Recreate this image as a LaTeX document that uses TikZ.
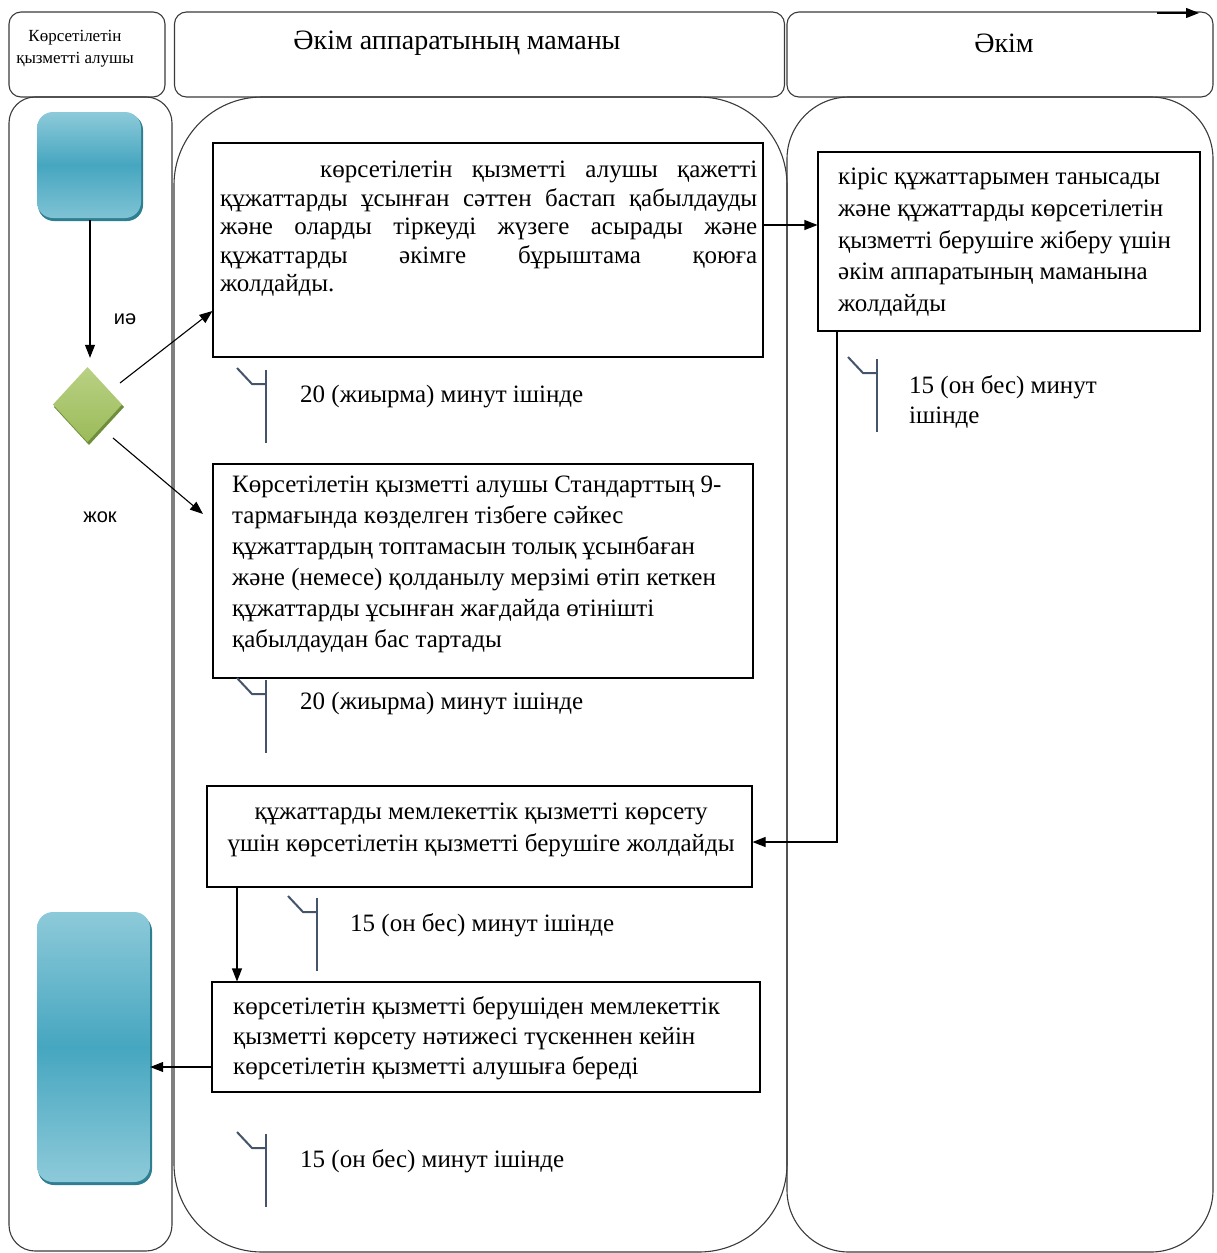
\documentclass[tikz,border=0pt]{standalone}
\usepackage{fontspec}
\setmainfont{Liberation Serif}
\newfontfamily\lsans{Liberation Sans}
\usetikzlibrary{arrows.meta,shapes.geometric,calc}
\definecolor{lanegray}{HTML}{3A3A3A}
\definecolor{brk}{HTML}{44546A}
\definecolor{bluelite}{HTML}{8DCAD9}
\definecolor{bluemid}{HTML}{46A6C0}
\definecolor{blueedge}{HTML}{2F7F93}
\definecolor{greenlite}{HTML}{B9D184}
\definecolor{greenmid}{HTML}{9BBB59}
\definecolor{greenedge}{HTML}{6F8E3B}
\tikzset{
  x=1pt, y=-1pt,
  lane/.style={draw=lanegray, line width=1.1pt},
  hdrbox/.style={draw=lanegray, line width=1.1pt, rounded corners=12pt, rectangle, inner sep=0pt},
  procbox/.style={draw=black, line width=1.1pt, rectangle, inner sep=0pt},
  bodytxt/.style={font=\fontsize{25}{31}\selectfont, inner sep=0pt, anchor=north west, align=left},
  timetxt/.style={font=\fontsize{25}{30}\selectfont, inner sep=0pt, anchor=west, align=left},
  lbl/.style={font=\lsans\fontsize{20}{24}\selectfont, inner sep=0pt},
  conn/.style={-{Triangle[length=13pt,width=10pt]}, line width=1.1pt, draw=black},
  tbracket/.pic={\draw[brk, line width=2pt] (0,0) -- (15,16) -- (29,16); \draw[brk, line width=2pt] (29,2) -- (29,75);}
}
\begin{document}
\begin{tikzpicture}
\useasboundingbox (0,0) rectangle (1216,1253);
% ---------- lanes ----------
\draw[lane, rounded corners=26pt] (9,97) rectangle (172,1251);
\draw[lane, rounded corners=88pt] (174,97) rectangle (787,1252);
\draw[lane, rounded corners=62pt] (787,97) rectangle (1213,1252);
% ---------- headers ----------
\node[hdrbox, minimum width=156pt, minimum height=85pt] (h1) at (87,54.5) {};
\node[hdrbox, minimum width=610pt, minimum height=85pt] (h2) at (479.5,54.5) {};
\node[hdrbox, minimum width=426pt, minimum height=85pt] (h3) at (1000,54.5) {};
\node[font=\fontsize{17}{22}\selectfont, align=center, inner sep=0pt] (h1t) at (75,49) {Көрсетілетін\\қызметті алушы};
\node[font=\fontsize{28}{32}\selectfont, inner sep=0pt] (h2t) at (457,43) {Әкім аппаратының маманы};
\node[font=\fontsize{28}{32}\selectfont, inner sep=0pt] (h3t) at (1004,43) {Әкім};
\coordinate (ta) at (1157,13);
\coordinate (tb) at (1199,13);
\draw[conn] (ta) -- (tb);
% ---------- start / end shapes ----------
\fill[blueedge, rounded corners=16pt] (38,114) rectangle (143,221);
\shade[rounded corners=16pt, top color=bluelite, bottom color=bluelite!80!bluemid, middle color=bluemid] (37,112) rectangle (141,218);
\node[minimum width=105pt, minimum height=108pt, inner sep=0pt] (start) at (89.5,166) {};
\fill[blueedge, rounded corners=16pt] (38,915) rectangle (152,1185);
\shade[rounded corners=16pt, top color=bluelite, bottom color=bluelite, middle color=bluemid] (37,912) rectangle (150,1182);
\node[minimum width=113pt, minimum height=270pt, inner sep=0pt] (endb) at (93.5,1047) {};
% decision
\fill[greenedge] (89,370) -- (124,407) -- (89,445) -- (54,407) -- cycle;
\shade[top color=greenlite, bottom color=greenmid] (87.5,367) -- (122,404.5) -- (87.5,442) -- (53,404.5) -- cycle;
\node[diamond, minimum width=69pt, minimum height=75pt, inner sep=0pt] (dec) at (87.5,404.5) {};
\node[lbl] (yes) at (125,319) {иә};
\node[lbl] (no) at (100,517) {жок};
% ---------- process boxes ----------
\node[procbox, minimum width=550pt, minimum height=214pt] (b1) at (488,250) {};
\node[procbox, minimum width=382pt, minimum height=179pt] (bA) at (1009,241.5) {};
\node[procbox, minimum width=540pt, minimum height=214pt] (b2) at (483,571) {};
\node[procbox, minimum width=545pt, minimum height=101pt] (b3) at (479.5,836.5) {};
\node[procbox, minimum width=548pt, minimum height=110pt] (b4) at (486,1037) {};
% texts
\node[bodytxt, text width=537pt, align=justify, font=\fontsize{25}{28.5}\selectfont] (b1t) at (220,161)
 {\hspace*{100pt}көрсетілетін қызметті алушы қажетті\linebreak
  құжаттарды ұсынған сәттен бастап қабылдауды\linebreak
  және оларды тіркеуді жүзеге асырады және\linebreak
  құжаттарды әкімге бұрыштама қоюға\linebreak
  жолдайды.};
\node[bodytxt, font=\fontsize{25}{31.7}\selectfont] (bAt) at (838,168)
 {кіріс құжаттарымен танысады\\
  және құжаттарды көрсетілетін\\
  қызметті берушіге жіберу үшін\\
  әкім аппаратының маманына\\
  жолдайды};
\node[bodytxt] (b2t) at (232,476)
 {Көрсетілетін қызметті алушы Стандарттың 9-\\
  тармағында көзделген тізбеге сәйкес\\
  құжаттардың топтамасын толық ұсынбаған\\
  және (немесе) қолданылу мерзімі өтіп кеткен\\
  құжаттарды ұсынған жағдайда өтінішті\\
  қабылдаудан бас тартады};
\node[bodytxt, anchor=north, align=center, font=\fontsize{25}{32}\selectfont] (b3t) at (481,803)
 {құжаттарды мемлекеттік қызметті көрсету\\
  үшін көрсетілетін қызметті берушіге жолдайды};
\node[bodytxt, font=\fontsize{25}{30}\selectfont] (b4t) at (233,996)
 {көрсетілетін қызметті берушіден мемлекеттік\\
  қызметті көрсету нәтижесі түскеннен кейін\\
  көрсетілетін қызметті алушыға береді};
% ---------- time marks ----------
\pic at (237,368) {tbracket};
\node[timetxt] (t1) at (300,397) {20 (жиырма) минут ішінде};
\pic at (848,357) {tbracket};
\node[timetxt] (t2) at (909,402) {15 (он бес) минут\\ішінде};
\pic at (237,678) {tbracket};
\node[timetxt] (t3) at (300,704) {20 (жиырма) минут ішінде};
\pic at (288,896) {tbracket};
\node[timetxt] (t4) at (350,925) {15 (он бес) минут ішінде};
\pic at (237,1132) {tbracket};
\node[timetxt] (t5) at (300,1161) {15 (он бес) минут ішінде};
% ---------- connectors ----------
\draw[conn, shorten >=9pt] (start.south -| 90,0) -- (dec.north -| 90,0);
\draw[conn] (120,383) -- (b1.west |- 0,311);
\draw[conn] (113,438) -- (203,514);
\draw[conn] (b1.east |- 0,225) -- (bA.west |- 0,225);
\draw[conn] (bA.south -| 837,0) |- (b3.east |- 0,842);
\draw[conn] (b3.south west -| 237,0) -- (b4.north west -| 237,0);
\draw[conn] (b4.west |- 0,1067) -- (endb.east |- 0,1067);
\end{tikzpicture}
\end{document}
